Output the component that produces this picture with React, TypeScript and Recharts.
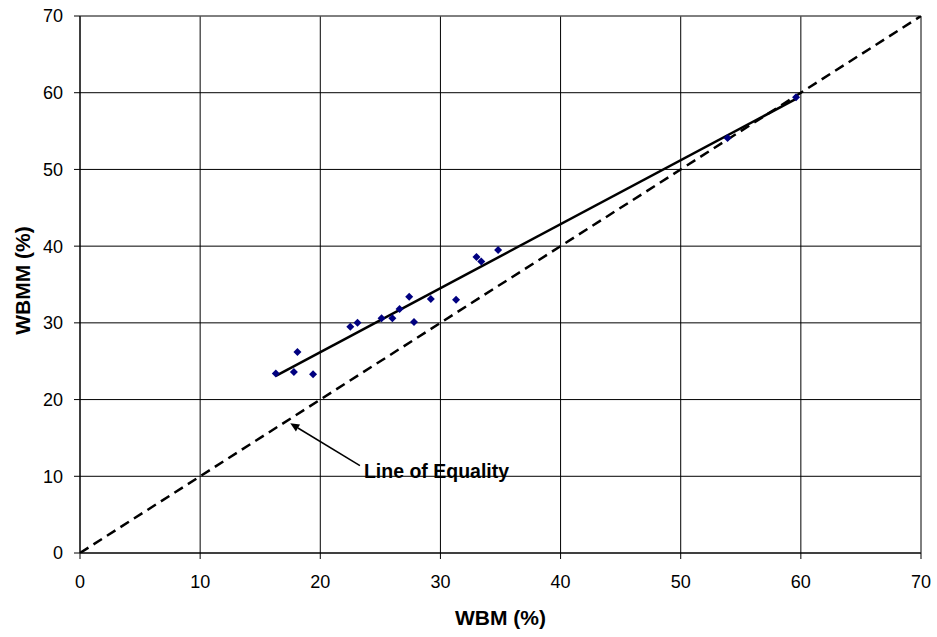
import {
  ComposedChart,
  Scatter,
  XAxis,
  YAxis,
  CartesianGrid,
  ReferenceLine,
  Label,
} from 'recharts';

// WBM vs WBMM measurements (%)
const wbmValues = [16.3, 17.8, 18.1, 19.4, 22.5, 23.1, 25.1, 26.0, 26.6, 27.4, 27.8, 29.2, 31.3, 33.0, 33.4, 34.8, 53.9, 59.6];
const wbmmValues = [23.4, 23.6, 26.2, 23.3, 29.5, 30.0, 30.6, 30.6, 31.8, 33.4, 30.1, 33.1, 33.0, 38.6, 38.0, 39.5, 54.1, 59.4];

// fitted trend line and line of equality (end points)
const trendX = [16.3, 59.6];
const trendY = [23.1, 59.2];
const equalityX = [0, 70];
const equalityY = [0, 70];

// arrow for the annotation: head, tail
const arrowX = [17.5, 23.3];
const arrowY = [16.9, 11.4];
const annotationText = 'Line of Equality';

const axisTicks = [0, 10, 20, 30, 40, 50, 60, 70];

const points = wbmValues.map((x, i) => ({ x, y: wbmmValues[i] }));
const trend = trendX.map((x, i) => ({ x, y: trendY[i] }));
const equality = equalityX.map((x, i) => ({ x, y: equalityY[i] }));

const FONT = '"Liberation Sans", Arial, sans-serif';

const Diamond = (props: any) => {
  const { cx, cy } = props;
  if (cx == null || cy == null) return null;
  const r = 4;
  return (
    <polygon
      points={`${cx},${cy - r} ${cx + r},${cy} ${cx},${cy + r} ${cx - r},${cy}`}
      fill="#000080"
    />
  );
};

const NoDot = () => null;

// arrow line with a filled head at the first point and the caption at the tail
const ArrowShape = (props: any) => {
  const { x1, y1, x2, y2 } = props;
  if ([x1, y1, x2, y2].some((v) => v == null || isNaN(v))) return null;
  const ang = Math.atan2(y1 - y2, x1 - x2);
  const len = 9;
  const w = 4;
  const bx = x1 - len * Math.cos(ang);
  const by = y1 - len * Math.sin(ang);
  const px = -Math.sin(ang) * w;
  const py = Math.cos(ang) * w;
  return (
    <g>
      <line x1={bx} y1={by} x2={x2} y2={y2} stroke="#000" strokeWidth={1.5} />
      <polygon points={`${x1},${y1} ${bx + px},${by + py} ${bx - px},${by - py}`} fill="#000" />
      <text
        x={x2 + 4}
        y={y2 + 12}
        fontFamily={FONT}
        fontSize={19.5}
        fontWeight="bold"
        fill="#000"
      >
        {annotationText}
      </text>
    </g>
  );
};

export default function App() {
  return (
    <div style={{ position: 'absolute', left: 0, top: 0, width: 937, height: 637, background: '#fff' }}>
      <ComposedChart
        width={937}
        height={637}
        margin={{ top: 16, right: 16, left: 20, bottom: 54 }}
      >
        <CartesianGrid stroke="#000" strokeWidth={1} />
        <XAxis
          type="number"
          dataKey="x"
          domain={[0, 70]}
          ticks={axisTicks}
          allowDataOverflow
          height={30}
          tickSize={6}
          tickMargin={16}
          axisLine={{ stroke: '#000' }}
          tickLine={{ stroke: '#000' }}
          tick={{ fill: '#000', fontSize: 18, fontFamily: FONT }}
        >
          <Label
            value="WBM (%)"
            position="center"
            dy={50}
            style={{ fontFamily: FONT, fontSize: 21, fontWeight: 'bold', fill: '#000' }}
          />
        </XAxis>
        <YAxis
          type="number"
          dataKey="y"
          domain={[0, 70]}
          ticks={axisTicks}
          allowDataOverflow
          width={60}
          tickSize={6}
          tickMargin={11}
          axisLine={{ stroke: '#000' }}
          tickLine={{ stroke: '#000' }}
          tick={{ fill: '#000', fontSize: 18, fontFamily: FONT }}
        >
          <Label
            value="WBMM (%)"
            position="center"
            angle={-90}
            dx={-27}
            dy={-4}
            style={{ fontFamily: FONT, fontSize: 21, fontWeight: 'bold', fill: '#000' }}
          />
        </YAxis>
        <ReferenceLine y={70} stroke="#808080" />
        <ReferenceLine x={70} stroke="#808080" />
        <Scatter
          data={equality}
          line={{ stroke: '#000', strokeWidth: 2.5, strokeDasharray: '10 6' }}
          shape={NoDot}
          isAnimationActive={false}
        />
        <Scatter
          data={trend}
          line={{ stroke: '#000', strokeWidth: 2.5 }}
          shape={NoDot}
          isAnimationActive={false}
        />
        <Scatter data={points} shape={Diamond} isAnimationActive={false} />
        <ReferenceLine
          segment={[
            { x: arrowX[0], y: arrowY[0] },
            { x: arrowX[1], y: arrowY[1] },
          ]}
          shape={ArrowShape}
        />
      </ComposedChart>
    </div>
  );
}
